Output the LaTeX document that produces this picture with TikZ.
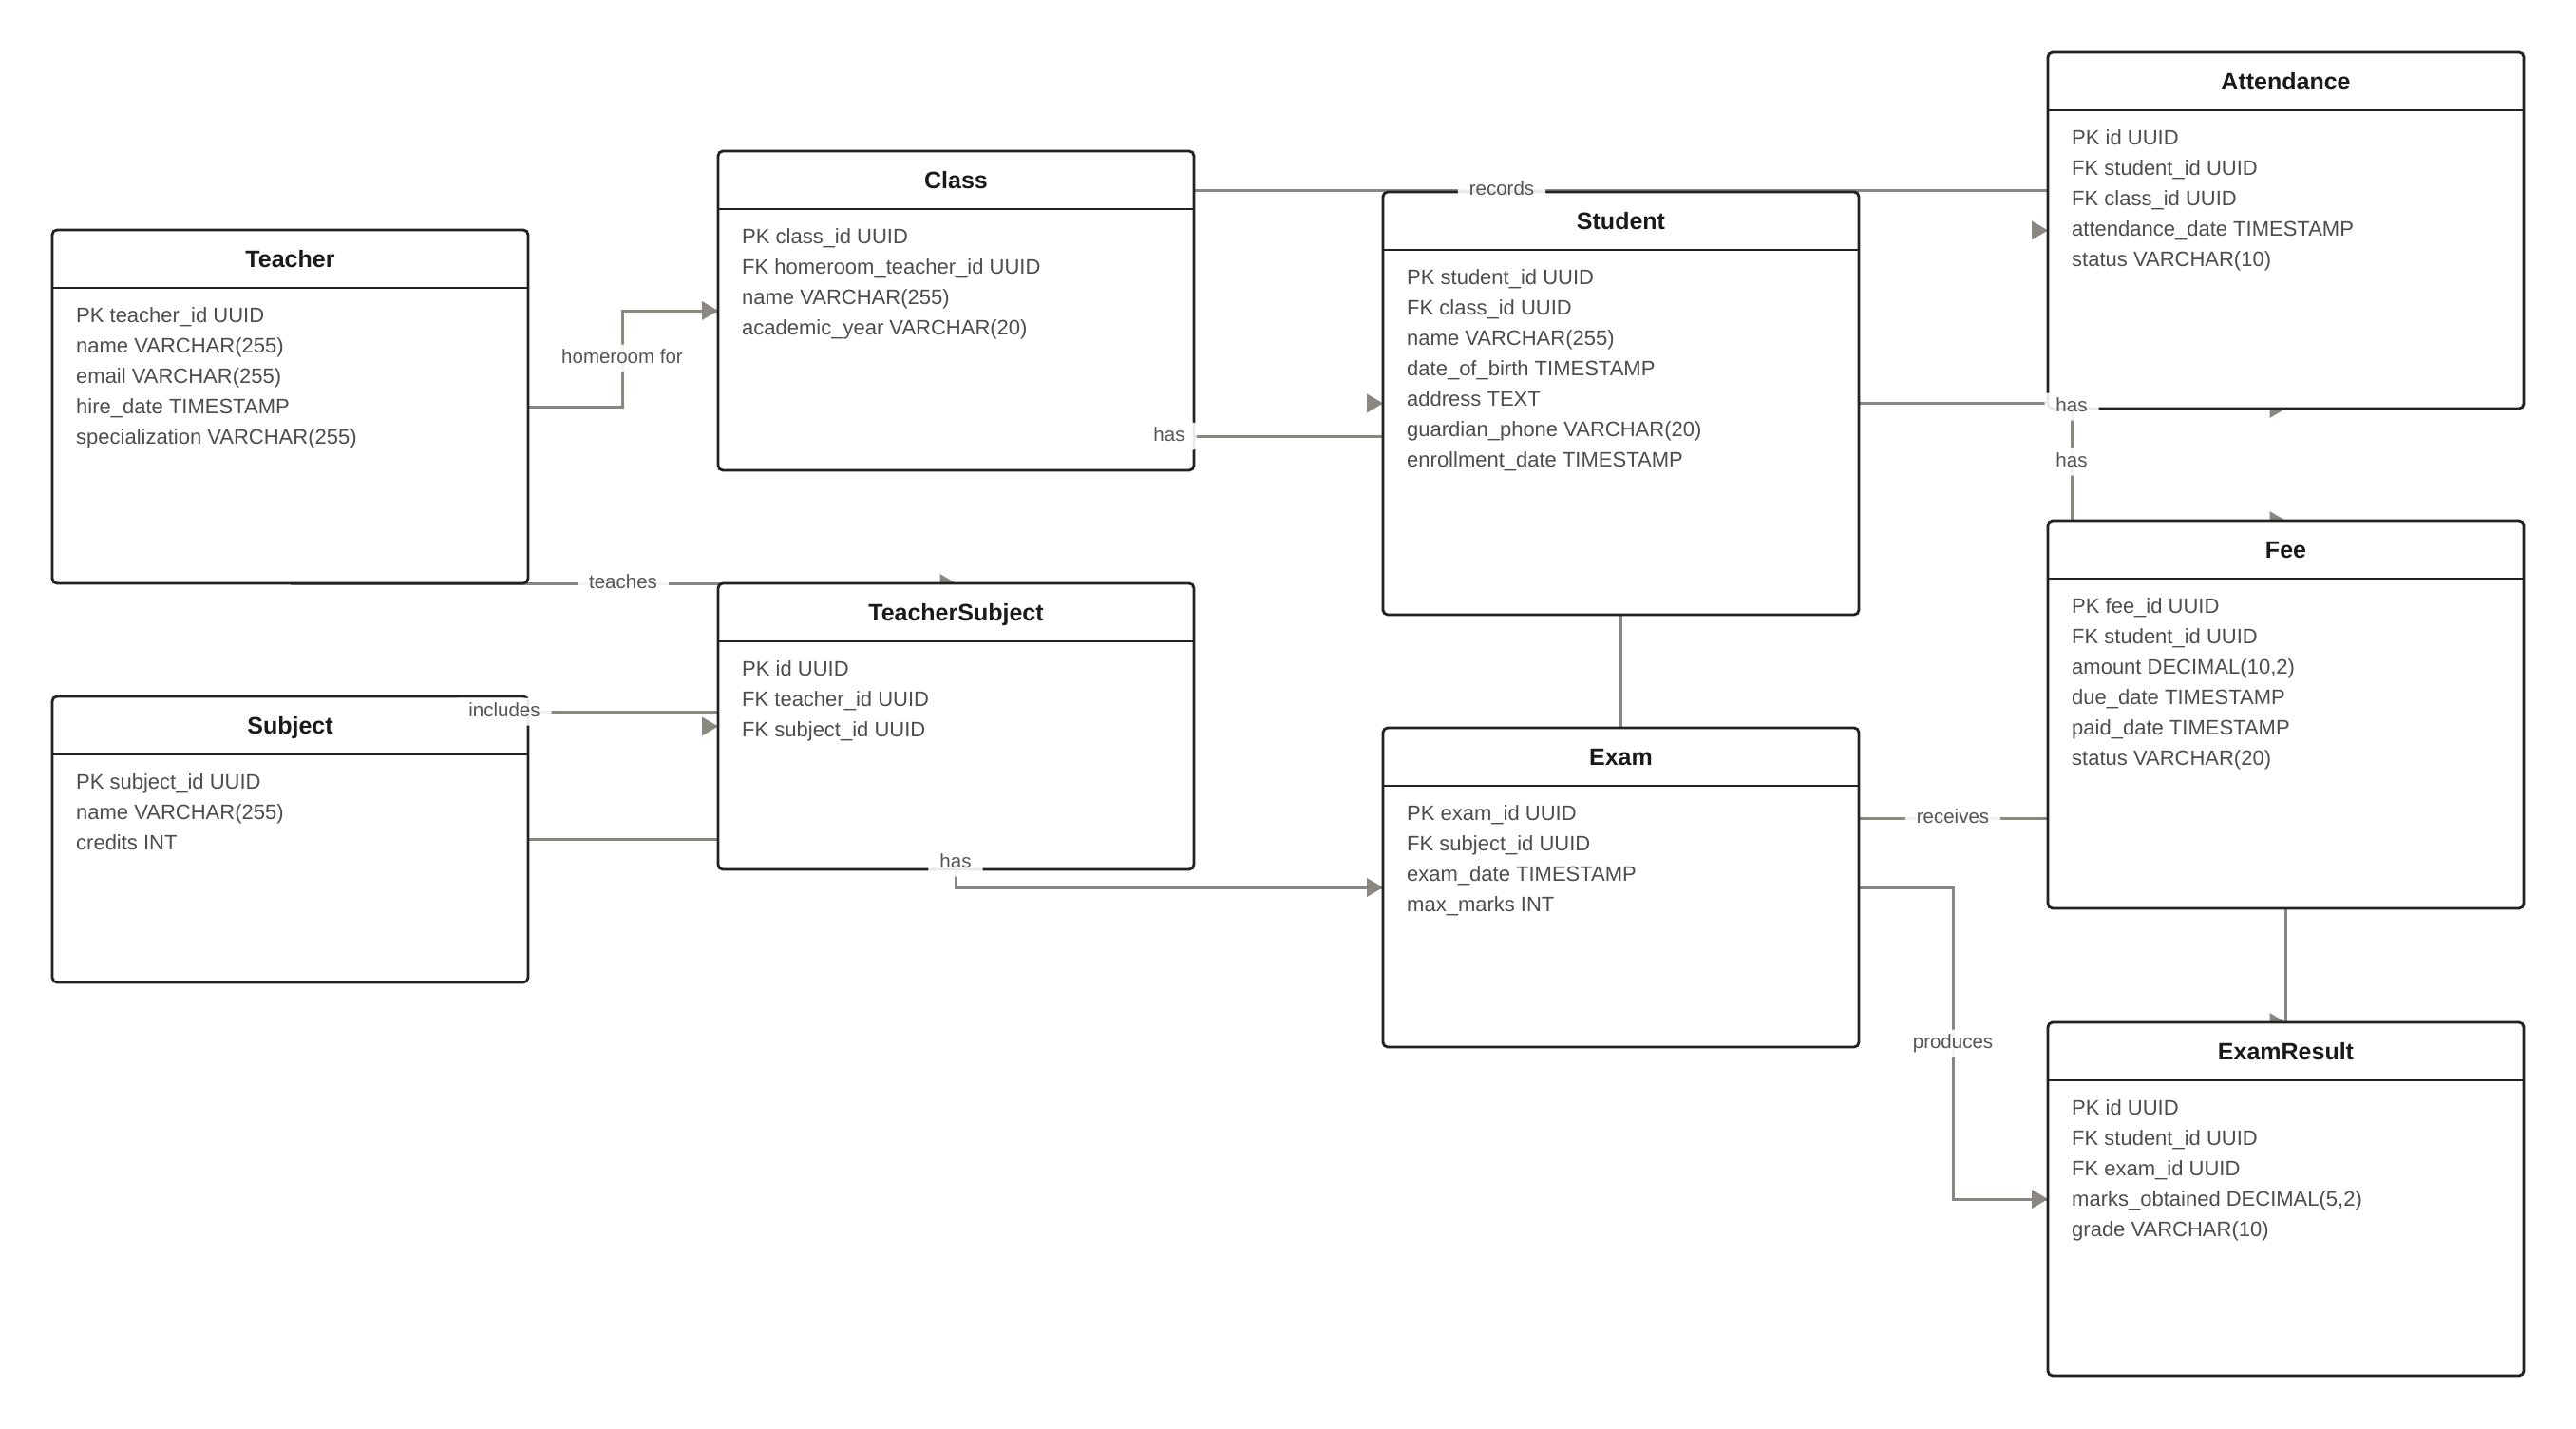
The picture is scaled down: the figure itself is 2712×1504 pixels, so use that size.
\documentclass[tikz,border=0pt]{standalone}
\usepackage{fontspec}
\setmainfont{Liberation Sans}
\usetikzlibrary{calc}
\pgfdeclarelayer{bg}
\pgfsetlayers{bg,main}
\definecolor{bord}{HTML}{222222}
\definecolor{conncol}{HTML}{8A8680}
\definecolor{rowcol}{HTML}{4D4D4D}
\definecolor{titlecol}{HTML}{1A1A1A}
\definecolor{lblcol}{HTML}{555555}
\tikzset{
  ebox/.style={draw=bord, line width=2.8pt, fill=white, rounded corners=5pt, minimum width=501pt, inner sep=0pt, outer sep=0pt, anchor=north west},
  hline/.style={draw=bord, line width=2.6pt},
  etitle/.style={font=\fontsize{25pt}{30pt}\selectfont\bfseries, text=titlecol, anchor=base, inner sep=0pt},
  erow/.style={font=\fontsize{22pt}{26pt}\selectfont, text=rowcol, anchor=base west, inner sep=0pt},
  conn/.style={draw=conncol, line width=3pt},
  tipfill/.style={fill=conncol},
  lbl/.style={font=\fontsize{20.5pt}{24pt}\selectfont, text=lblcol, fill=white, fill opacity=0.9, text opacity=1, rounded corners=3pt, inner xsep=12pt, inner ysep=5pt, text height=15pt, text depth=4pt},
}
\newcommand\entity[6]{%
  \node[ebox, minimum height=#4pt] (#1) at (#2,#3) {};
  \draw[hline] ($(#1.north west)+(0,61)$) -- ($(#1.north east)+(0,61)$);
  \node[etitle] (#1-title) at ($(#1.north)+(0,39.5)$) {#5};
  \foreach \rowtxt [count=\k] in {#6}{%
    \node[erow] (#1-row\k) at ($(#1.north west)+(25,{97+32*(\k-1)})$) {\rowtxt};
  }%
}
\newcommand\tipE[1]{\fill[tipfill] (#1) -- ++(-17,-10) -- ++(0,20) -- cycle;}
\begin{document}
\begin{tikzpicture}[x=1pt,y=-1pt]
\useasboundingbox (0,0) rectangle (2712,1504);
\begin{pgfonlayer}{bg}
\fill[white] (0,0) rectangle (2712,1504);
\end{pgfonlayer}

% entities
\entity{teacher}{55}{242}{372}{Teacher}{PK teacher\_id UUID,name VARCHAR(255),email VARCHAR(255),hire\_date TIMESTAMP,specialization VARCHAR(255)}
\entity{class}{756}{159}{336}{Class}{PK class\_id UUID,FK homeroom\_teacher\_id UUID,name VARCHAR(255),academic\_year VARCHAR(20)}
\entity{student}{1456}{202}{445}{Student}{PK student\_id UUID,FK class\_id UUID,name VARCHAR(255),date\_of\_birth TIMESTAMP,address TEXT,guardian\_phone VARCHAR(20),enrollment\_date TIMESTAMP}
\entity{attendance}{2156}{55}{375}{Attendance}{PK id UUID,FK student\_id UUID,FK class\_id UUID,attendance\_date TIMESTAMP,status VARCHAR(10)}
\entity{ts}{756}{614}{301}{TeacherSubject}{PK id UUID,FK teacher\_id UUID,FK subject\_id UUID}
\entity{subject}{55}{733}{301}{Subject}{PK subject\_id UUID,name VARCHAR(255),credits INT}
\entity{exam}{1456}{766}{336}{Exam}{PK exam\_id UUID,FK subject\_id UUID,exam\_date TIMESTAMP,max\_marks INT}
\entity{fee}{2156}{548}{408}{Fee}{PK fee\_id UUID,FK student\_id UUID,{amount DECIMAL(10,2)},due\_date TIMESTAMP,paid\_date TIMESTAMP,status VARCHAR(20)}
\entity{er}{2156}{1076}{372}{ExamResult}{PK id UUID,FK student\_id UUID,FK exam\_id UUID,{marks\_obtained DECIMAL(5,2)},grade VARCHAR(10)}

% label positions
\coordinate (hrbend) at (655,377);
\coordinate (teachlbl) at ($(teacher.south)!0.5!(ts.north)$);
\coordinate (inclbl) at (531,749);
\coordinate (tshas) at (1006,908);
\coordinate (chs) at (1231,459);
\coordinate (rec) at (1581,200);
\coordinate (sx) at (2181,486);
\coordinate (sxa) at (2181,428);
\coordinate (rcv) at (2056,861);
\coordinate (prd) at (2056,1098);

% connectors
\begin{pgfonlayer}{bg}
\draw[conn] (teacher.east) -| (hrbend) |- (class.west);
\tipE{class.west}
\draw[conn] (teacher.south) -- (ts.north);
\tipE{ts.north}
\draw[conn] (inclbl) -- (ts.west |- inclbl) -- (ts.west);
\tipE{ts.west}
\draw[conn] (subject.east) -- (ts.west |- subject.east);
\draw[conn] (ts.south) -- (ts.south |- exam.west) -- (exam.west);
\tipE{exam.west}
\draw[conn] (class.east |- chs) -- (student.west |- chs) -- (student.west);
\tipE{student.west}
\draw[conn] (class.east |- rec) -- (attendance.west |- rec) -- (attendance.west);
\tipE{attendance.west}
\draw[conn] (student.east) -| (sx |- attendance.south) -- (attendance.south);
\tipE{attendance.south}
\draw[conn] (student.east) -| (sx |- fee.north) -- (fee.north);
\tipE{fee.north}
\draw[conn] (student.south) -- (exam.north);
\draw[conn] (exam.east |- rcv) -- (fee.west |- rcv);
\draw[conn] (exam.east) -| (prd) |- (er.west);
\tipE{er.west}
\draw[conn] (fee.south) -- (er.north);
\tipE{er.north}
\end{pgfonlayer}

% connector labels
\node[lbl] (l-homeroom) at (hrbend) {homeroom for};
\node[lbl] (l-teaches) at (teachlbl) {teaches};
\node[lbl] (l-includes) at (inclbl) {includes};
\node[lbl] (l-tshas) at (tshas) {has};
\node[lbl] (l-classhas) at (chs) {has};
\node[lbl] (l-records) at (rec) {records};
\node[lbl] (l-atthas) at (sxa) {has};
\node[lbl] (l-feehas) at (sx) {has};
\node[lbl] (l-receives) at (rcv) {receives};
\node[lbl] (l-produces) at (prd) {produces};
\end{tikzpicture}
\end{document}
